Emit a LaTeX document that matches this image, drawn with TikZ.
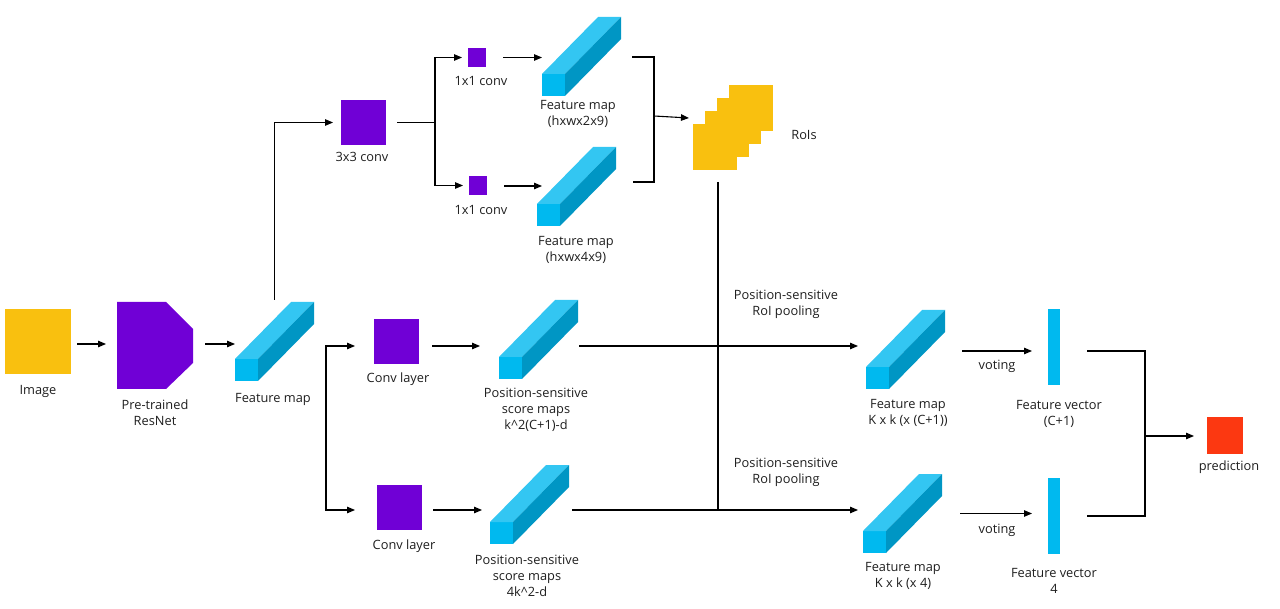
\documentclass[tikz,border=0pt]{standalone}
\usepackage{fontspec}
\setmainfont{Open Sans}
\usetikzlibrary{arrows.meta,calc}
\definecolor{imgorange}{HTML}{F9C00F}
\definecolor{convpurple}{HTML}{7000D6}
\definecolor{cubefrontc}{HTML}{00B9EF}
\definecolor{cubetopc}{HTML}{33C6F2}
\definecolor{cubesidec}{HTML}{0096C4}
\definecolor{predred}{HTML}{FC3811}
\definecolor{txtc}{HTML}{1E1E1E}
\tikzset{
  arr/.style={draw=black, line width=1.1pt, -{Triangle[length=8pt,width=6.5pt]}},
  ln/.style={draw=black, line width=1.1pt},
  blk/.style={inner sep=0pt, outer sep=0pt, draw=none},
  lbl/.style={text=txtc, font=\fontsize{12.8}{16}\selectfont, align=center, inner sep=0pt},
}
\newcommand\fcube[3]{%
  \fill[cubefrontc] (#2,#3) rectangle ++(23,22);
  \fill[cubetopc] (#2,#3) -- ++(56,-57) -- ++(23,0) -- ++(-56,57) -- cycle;
  \fill[cubesidec] (#2+23,#3) -- ++(56,-57) -- ++(0,22) -- ++(-56,57) -- cycle;
  \node[blk, minimum width=79pt, minimum height=79pt] (#1) at (#2+39.5,#3-17.5) {};
}
\begin{document}
\begin{tikzpicture}[x=1pt,y=-1pt]
\useasboundingbox (0,0) rectangle (1280,609);
% Image
\node[blk, fill=imgorange, minimum width=66pt, minimum height=65pt] (img) at (38,341.5) {};
\node[lbl] (limg) at (38,391) {Image};
% ResNet
\node[blk, minimum width=76pt, minimum height=87pt] (resnet) at (155,345.5) {};
\fill[convpurple] (117,302) -- (166,302) -- (193,329) -- (193,363) -- (166,389) -- (117,389) -- cycle;
\node[lbl] (lres) at (155,412.5) {Pre-trained\\ResNet};
% Feature map (main)
\fcube{fm}{235}{359}
\node[lbl] (lfm) at (273,399) {Feature map};
% 3x3 conv
\node[blk, fill=convpurple, minimum size=45pt] (c3) at (363.5,122.5) {};
\node[lbl] (lc3) at (362,157) {3x3 conv};
% 1x1 convs
\node[blk, fill=convpurple, minimum width=18pt, minimum height=19pt] (c1a) at (477,57.5) {};
\node[lbl] (lc1a) at (481,81) {1x1 conv};
\node[blk, fill=convpurple, minimum width=18pt, minimum height=19pt] (c1b) at (478,185.5) {};
\node[lbl] (lc1b) at (481,210) {1x1 conv};
% RPN feature maps
\fcube{fma}{542}{74}
\node[lbl] (lfma) at (578,114) {Feature map\\(hxwx2x9)};
\fcube{fmb}{537}{204}
\node[lbl] (lfmb) at (576,249.5) {Feature map\\(hxwx4x9)};
% RoIs
\fill[imgorange] (729,85) rectangle ++(44,46);
\fill[imgorange] (717,98) rectangle ++(44,46);
\fill[imgorange] (705,111) rectangle ++(44,46);
\fill[imgorange] (693,124) rectangle ++(44,46);
\node[blk, minimum width=80pt, minimum height=85pt] (rois) at (733,127.5) {};
\node[lbl] (lrois) at (804,135) {RoIs};
% Conv layers
\node[blk, fill=convpurple, minimum size=45pt] (cl1) at (396.5,341.5) {};
\node[lbl] (lcl1) at (398,379) {Conv layer};
\node[blk, fill=convpurple, minimum size=45pt] (cl2) at (399.5,507.5) {};
\node[lbl] (lcl2) at (404,546) {Conv layer};
% Score maps
\fcube{sm1}{499}{357}
\node[lbl] (lsm1) at (536,410) {Position-sensitive\\score maps\\k\textasciicircum 2(C+1)-d};
\fcube{sm2}{490}{522}
\node[lbl] (lsm2) at (527,576) {Position-sensitive\\score maps\\4k\textasciicircum 2-d};
% PS RoI pooling labels
\node[lbl] (lps1) at (786,304) {Position-sensitive\\RoI pooling};
\node[lbl] (lps2) at (786,472) {Position-sensitive\\RoI pooling};
% Right feature maps
\fcube{fr1}{866}{367}
\node[lbl] (lfr1) at (908,413) {Feature map\\K x k (x (C+1))};
\fcube{fr2}{863}{531}
\node[lbl] (lfr2) at (903,575.5) {Feature map\\K x k (x 4)};
% Feature vectors
\node[blk, fill=cubefrontc, minimum width=12pt, minimum height=76pt] (fv1) at (1054,347) {};
\node[lbl] (lfv1) at (1059,413.5) {Feature vector\\(C+1)};
\node[blk, fill=cubefrontc, minimum width=12pt, minimum height=76pt] (fv2) at (1054,516) {};
\node[lbl] (lfv2) at (1054,580.5) {Feature vector\\4};
% prediction
\node[blk, fill=predred, minimum width=36pt, minimum height=37pt] (pred) at (1225,435.5) {};
\node[lbl] (lpred) at (1229,467) {prediction};
% voting labels
\node[lbl] (lv1) at (997,366) {voting};
\node[lbl] (lv2) at (997,530) {voting};

% ---- connectors ----
\draw[arr] ([xshift=6pt,yshift=-2.5pt]img.east) -- ([xshift=-11pt,yshift=-2.5pt]img.east -| resnet.west);
\draw[arr] ([xshift=12pt,yshift=1.5pt]resnet.east) -- ([yshift=1.5pt]resnet.east -| fm.west);
\draw[arr, shorten >=8pt] ([yshift=2pt]fm.north) |- (c3.west);
\coordinate (sp1) at (435,122.5);
\draw[ln] ([xshift=11pt]c3.east) -- (sp1);
\draw[arr, shorten >=6pt] (sp1) |- (c1a.west);
\draw[arr, shorten >=6pt] (sp1) |- (c1b.west);
\draw[arr] ([xshift=17pt]c1a.east) -- (c1a.east -| fma.west);
\draw[arr] ([xshift=17pt,yshift=-0.5pt]c1b.east) -- ([xshift=5pt,yshift=-0.5pt]c1b.east -| fmb.west);
\coordinate (br1) at (654,57);
\coordinate (br2) at (654,182);
\coordinate (brm) at (654,116);
\draw[ln] ([xshift=11pt]fma.east |- br1) -- (br1) -- (br2) -- ([xshift=17pt]fmb.east |- br2);
\draw[arr] (brm) -- ([shift={(-4pt,9.5pt)}]rois.west);
\coordinate (roiB) at (718,182);
\coordinate (roiE) at (718,510);
\draw[ln] (roiB) -- (roiE);
\coordinate (sp2a) at (326,346);
\coordinate (sp2b) at (326,510);
\draw[{Triangle[length=8pt,width=6.5pt]}-{Triangle[length=8pt,width=6.5pt]}, line width=1.1pt]
  ([xshift=-19pt]sp2a -| cl1.west) -- (sp2a) -- (sp2b) -- ([xshift=-22pt]sp2b -| cl2.west);
\draw[arr] ([xshift=13pt]sp2a -| cl1.east) -- ([xshift=-19pt]sp2a -| sm1.west);
\draw[arr] ([xshift=11pt]sp2b -| cl2.east) -- ([xshift=-8pt]sp2b -| sm2.west);
\draw[arr] ([xshift=1pt]sp2a -| sm1.east) -- ([xshift=-8pt]sp2a -| fr1.west);
\draw[arr] ([xshift=3pt]sp2b -| sm2.east) -- ([xshift=-5pt]sp2b -| fr2.west);
\draw[arr] ([xshift=17pt,yshift=-1.5pt]fr1.east) -- ([xshift=-16pt,yshift=-1.5pt]fr1.east -| fv1.west);
\draw[arr] ([xshift=18pt]fr2.east) -- ([xshift=-16pt]fr2.east -| fv2.west);
\coordinate (br3) at (1145,351);
\coordinate (br4) at (1145,516);
\coordinate (brm2) at (1145,436);
\draw[ln] ([xshift=27pt]fv1.east |- br3) -- (br3) -- (br4) -- ([xshift=27pt]fv2.east |- br4);
\draw[arr] (brm2) -- ([xshift=-13pt]brm2 -| pred.west);
\end{tikzpicture}
\end{document}
